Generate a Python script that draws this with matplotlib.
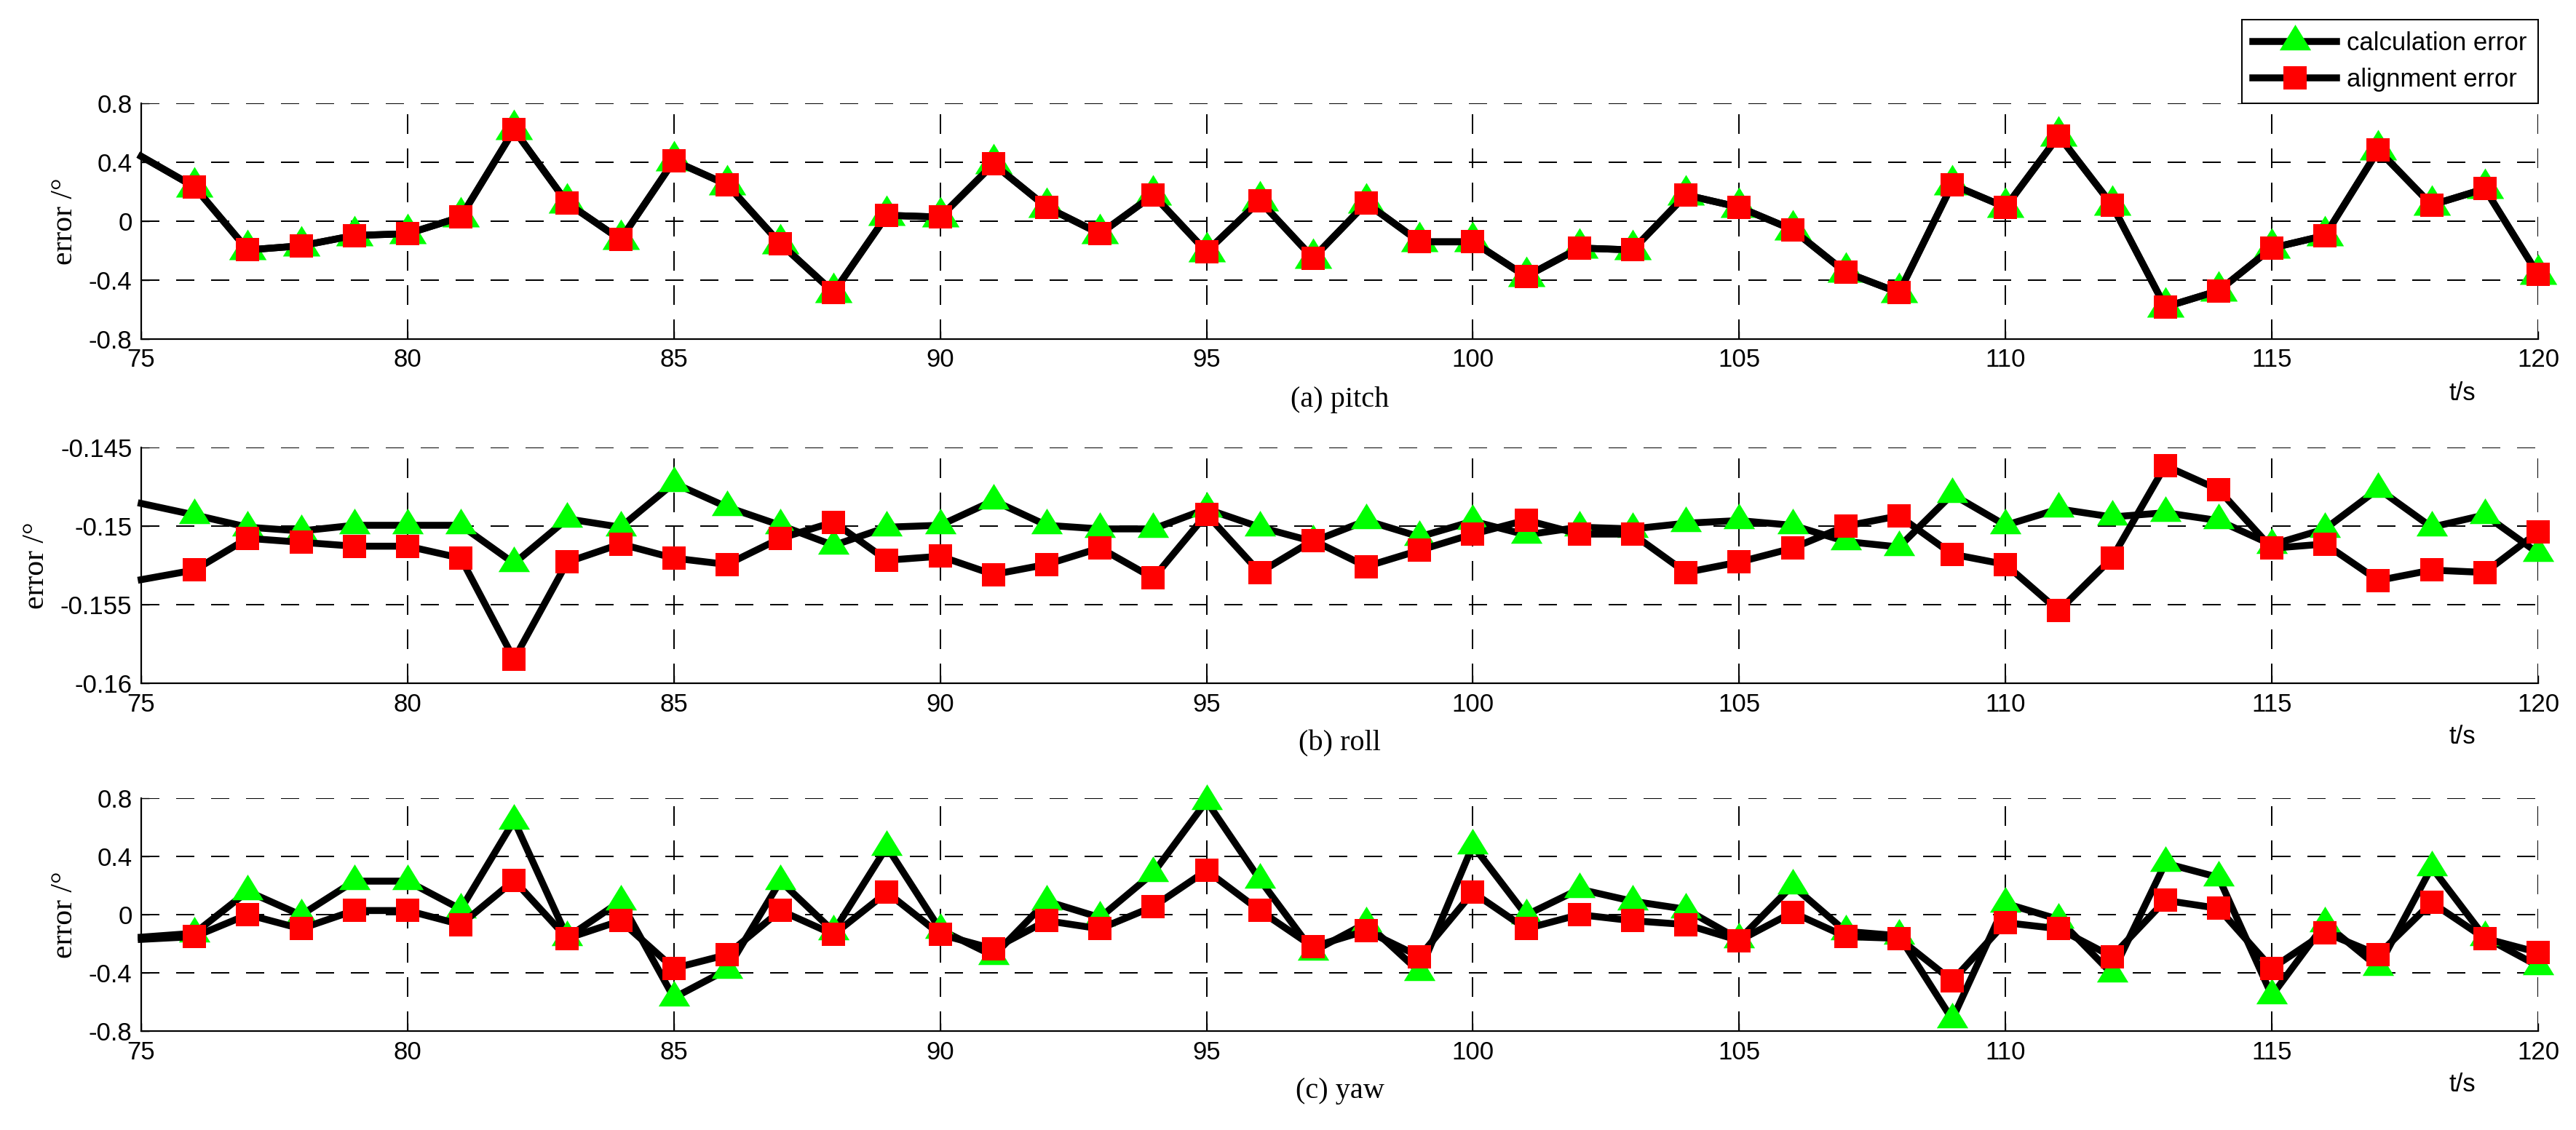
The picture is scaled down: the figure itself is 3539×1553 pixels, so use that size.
import numpy as np
import matplotlib
matplotlib.use("Agg")
from matplotlib import pyplot as plt
from matplotlib.path import Path

# data, t = 75 ... 120 s
t = list(range(75, 121))

pitch_calc = [0.44, 0.233, -0.195, -0.167, -0.097, -0.085, 0.028, 0.62, 0.123, -0.125,
              0.41, 0.248, -0.152, -0.483, 0.04, 0.028, 0.388, 0.095, -0.085, 0.178,
              -0.207, 0.138, -0.25, 0.123, -0.14, -0.14, -0.375, -0.182, -0.195, 0.178,
              0.095, -0.057, -0.347, -0.485, 0.248, 0.095, 0.58, 0.11, -0.582, -0.472,
              -0.182, -0.097, 0.483, 0.11, 0.22, -0.362]
pitch_align = [0.44, 0.233, -0.195, -0.167, -0.097, -0.085, 0.028, 0.62, 0.123, -0.125,
               0.41, 0.248, -0.152, -0.483, 0.04, 0.028, 0.388, 0.095, -0.085, 0.178,
               -0.207, 0.138, -0.25, 0.123, -0.14, -0.14, -0.375, -0.182, -0.195, 0.178,
               0.095, -0.057, -0.347, -0.485, 0.248, 0.095, 0.58, 0.11, -0.582, -0.472,
               -0.182, -0.097, 0.483, 0.11, 0.22, -0.362]

roll_calc = [-0.14856, -0.14929, -0.15007, -0.15031, -0.14995, -0.14995, -0.14995, -0.15237,
             -0.14954, -0.15007, -0.14727, -0.14879, -0.14995, -0.15123, -0.15007, -0.14995,
             -0.14838, -0.14995, -0.15018, -0.15018, -0.14891, -0.15007, -0.15098, -0.14965,
             -0.15068, -0.14969, -0.15056, -0.15007, -0.15018, -0.14982, -0.14965, -0.14995,
             -0.15098, -0.15133, -0.14798, -0.14995, -0.14891, -0.14942, -0.14915, -0.14965,
             -0.15119, -0.15018, -0.14763, -0.15007, -0.14929, -0.15172]
roll_align = [-0.15341, -0.1528, -0.15078, -0.15103, -0.15128, -0.15128, -0.15204, -0.15847,
              -0.15229, -0.15114, -0.15204, -0.15244, -0.15078, -0.14975, -0.15217, -0.15192,
              -0.15308, -0.15244, -0.15139, -0.15331, -0.14924, -0.15295, -0.15091, -0.15257,
              -0.15154, -0.15051, -0.14962, -0.15051, -0.15051, -0.15295, -0.15229, -0.15141,
              -0.15000, -0.14935, -0.15179, -0.15244, -0.15539, -0.15204, -0.14616, -0.14768,
              -0.15141, -0.15114, -0.15346, -0.1528, -0.15295, -0.15038]

yaw_calc = [-0.155, -0.128, 0.160, -0.003, 0.23, 0.23, 0.037, 0.646, -0.156, 0.092,
            -0.571, -0.378, 0.231, -0.116, 0.466, -0.103, -0.283, 0.092, -0.02, 0.286,
            0.78, 0.241, -0.253, -0.058, -0.394, 0.476, -0.003, 0.175, 0.092, 0.037,
            -0.171, 0.2, -0.115, -0.145, -0.72, 0.077, -0.033, -0.406, 0.353, 0.256,
            -0.556, -0.062, -0.361, 0.325, -0.156, -0.353]
yaw_align = [-0.17, -0.151, 0.0, -0.097, 0.028, 0.028, -0.068, 0.235, -0.163, -0.042,
             -0.369, -0.275, 0.028, -0.136, 0.153, -0.136, -0.235, -0.042, -0.097, 0.055,
             0.303, 0.028, -0.221, -0.11, -0.288, 0.153, -0.097, 0.0, -0.042, -0.068,
             -0.178, 0.015, -0.151, -0.163, -0.454, -0.055, -0.097, -0.288, 0.098, 0.043,
             -0.369, -0.123, -0.275, 0.083, -0.163, -0.26]

xticks = [75, 80, 85, 90, 95, 100, 105, 110, 115, 120]
ang_ticks = [-0.8, -0.4, 0, 0.4, 0.8]
ang_labels = ['-0.8', '-0.4', '0', '0.4', '0.8']
roll_ticks = [-0.16, -0.155, -0.15, -0.145]
roll_labels = ['-0.16', '-0.155', '-0.15', '-0.145']

panels = [
    ('(a) pitch', pitch_calc, pitch_align, ang_ticks, ang_labels, (-0.8, 0.8)),
    ('(b) roll', roll_calc, roll_align, roll_ticks, roll_labels, (-0.16, -0.145)),
    ('(c) yaw', yaw_calc, yaw_align, ang_ticks, ang_labels, (-0.8, 0.8)),
]

W, H = 3539, 1553
DPI = 100
PX = 72.0 / DPI  # points per pixel

plt.rcParams['font.family'] = ['Liberation Sans', 'DejaVu Sans']
serif = ['Liberation Serif', 'DejaVu Serif']

fig = plt.figure(figsize=(W / DPI, H / DPI), dpi=DPI)

# axes boxes in pixels: (top, bottom)
left_px, right_px = 194, 3487
boxes = [(142, 466), (615, 939), (1097, 1417)]

# matlab-like triangle, centred on its centroid
tri = Path([(0, 1), (-0.92, -0.5), (0.92, -0.5), (0, 1)], closed=True)

grid_lw = 2 * PX
axes = []
for i, (name, calc, align, yt, yl, ylim) in enumerate(panels):
    top, bot = boxes[i]
    ax = fig.add_axes([left_px / W, 1 - bot / H, (right_px - left_px) / W, (bot - top) / H])
    tri_ms = (56 if i == 0 else 47) * PX
    ax.plot(t, calc, color='black', lw=9.5 * PX, marker=tri, ms=tri_ms,
            mfc=(0, 1, 0), mec=(0, 1, 0), mew=0, markevery=slice(1, None),
            clip_on=False, label='calculation error', zorder=3)
    ax.plot(t, align, color='black', lw=9.5 * PX, marker='s', ms=32 * PX,
            mfc='red', mec='red', mew=0, markevery=slice(1, None),
            clip_on=False, label='alignment error', zorder=3)
    ax.set_xlim(75, 120)
    ax.set_ylim(*ylim)
    ax.set_xticks(xticks)
    ax.set_xticklabels([str(v) for v in xticks])
    ax.set_yticks(yt)
    ax.set_yticklabels(yl)
    ax.tick_params(direction='in', length=8, width=1, labelsize=25, pad=9)
    for s in ['top', 'right']:
        ax.spines[s].set_visible(False)
    for s in ['left', 'bottom']:
        ax.spines[s].set_linewidth(2.2 * PX)
    ax.set_axisbelow(True)
    # dash lengths in pixels, scaled by line width
    ax.xaxis.grid(True, color='black', lw=grid_lw, linestyle=(0, (27 / 2, 20 / 2)))
    ax.yaxis.grid(True, color='black', lw=grid_lw, linestyle=(0, (25 / 2, 23 / 2)))
    ax.set_ylabel('error /°', family=serif, fontsize=30, labelpad=10)
    # panel caption and axis unit under each panel
    fig.text(0.5 * (left_px + right_px) / W, 1 - (bot + 83) / H, name,
             family=serif, fontsize=29, ha='center', va='center')
    fig.text(3383 / W, 1 - (bot + 74) / H, 't/s', fontsize=25, ha='center', va='center')
    axes.append(ax)

h, l = axes[1].get_legend_handles_labels()
leg = axes[0].legend(h, l, loc='lower right', bbox_to_anchor=(1.0, 1.0), borderaxespad=0,
                     fontsize=25, numpoints=1, handlelength=3.3, handletextpad=0.4,
                     borderpad=0.45, labelspacing=0.5, fancybox=False, framealpha=1,
                     edgecolor='black')
leg.get_frame().set_linewidth(2 * PX)

fig.savefig('out.png', dpi=DPI)
